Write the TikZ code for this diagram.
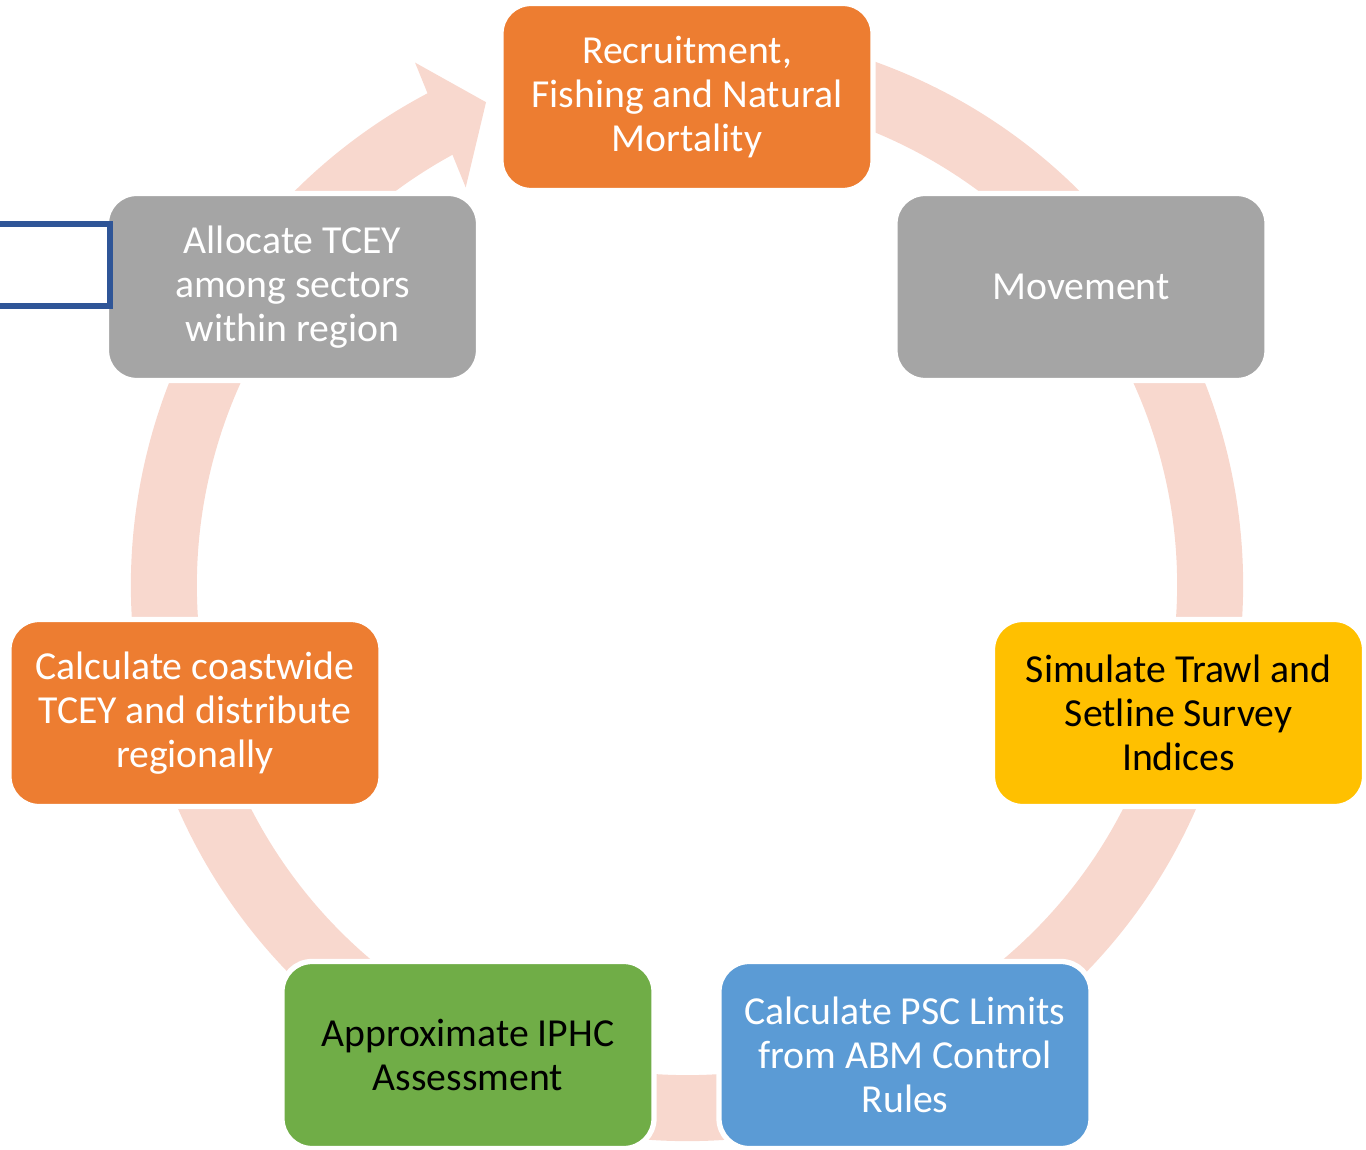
\documentclass[tikz,border=0pt]{standalone}
\usepackage{fontspec}
\setmainfont{Carlito}
\usepackage{xcolor}
\usepackage{tikz}
\usetikzlibrary{arrows.meta,positioning,shapes,calc}

\definecolor{stageorange}{HTML}{ED7D31}
\definecolor{stagegray}{HTML}{A5A5A5}
\definecolor{stageyellow}{HTML}{FFC000}
\definecolor{stageblue}{HTML}{5B9BD5}
\definecolor{stagegreen}{HTML}{70AD47}
\definecolor{ringpink}{HTML}{F8D8CE}
\definecolor{frameblue}{HTML}{2F5597}

\begin{document}
\begin{tikzpicture}[
  stage/.style={rectangle, rounded corners=0.3cm, draw=white, line width=1.5pt,
    minimum width=3.72cm, minimum height=1.87cm, align=center,
    font=\fontsize{11.3}{12.6}\selectfont, text=white},
  ring/.style={ringpink, line width=0.66cm}]
\clip (-6.87,-5.64) rectangle (6.79,5.85);

% Cycle ring with its arrowhead
\coordinate (hub) at (0,0);
\draw[ring] ($(hub)+(75:5.23)$) arc[start angle=75, end angle=-242.2, radius=5.23];
\fill[ringpink] ($(hub)+(117.5:5.89)$) -- ($(hub)+(112.6:5.23)$) -- ($(hub)+(119.1:4.55)$) -- cycle;

% Stages of the cycle
\node[stage, fill=stageorange] (recruit) at (0,4.88) {Recruitment,\\Fishing and Natural\\Mortality};
\node[stage, fill=stagegray] (move) at (3.94,2.98) {Movement};
\node[stage, fill=stageyellow, text=black] (survey) at (4.915,-1.28) {Simulate Trawl and\\Setline Survey\\Indices};
\node[stage, fill=stageblue] (psc) at (2.18,-4.70) {Calculate PSC Limits\\from ABM Control\\Rules};
\node[stage, fill=stagegreen, text=black] (assess) at (-2.19,-4.70) {Approximate IPHC\\Assessment};
\node[stage, fill=stageorange] (tcey) at (-4.92,-1.28) {Calculate coastwide\\TCEY and distribute\\regionally};
\node[stage, fill=stagegray] (alloc) at (-3.945,2.98) {Allocate TCEY\\among sectors\\within region};

% Frame cut by the left edge
\node[rectangle, draw=frameblue, line width=0.06cm, inner sep=0pt,
  minimum width=1.43cm, minimum height=0.82cm] (frame) at (-6.485,3.20) {};

\end{tikzpicture}
\end{document}
